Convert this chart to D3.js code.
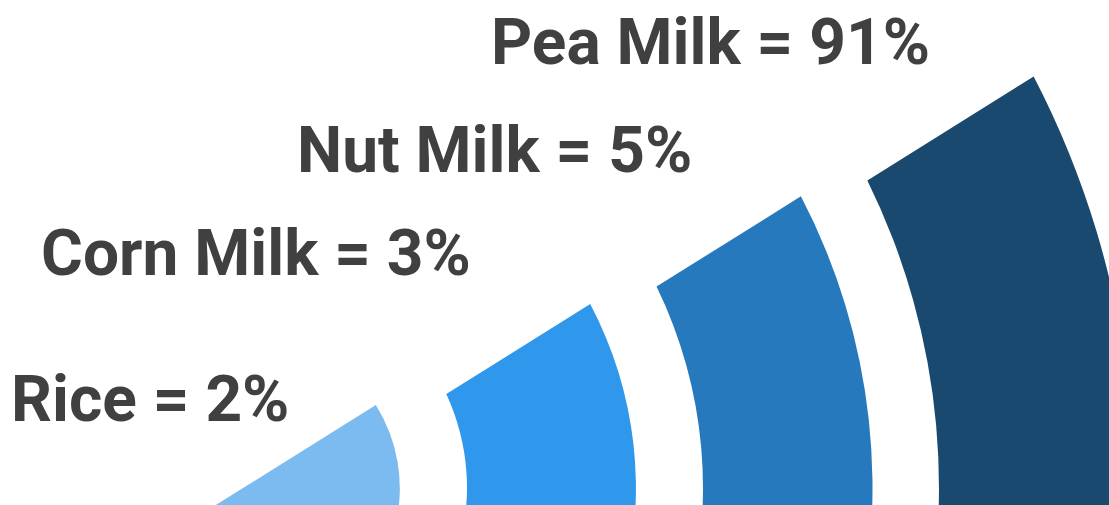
<!DOCTYPE html>
<html>
<head>
<meta charset="utf-8">
<script src="https://cdnjs.cloudflare.com/ajax/libs/d3/7.8.5/d3.min.js"></script>
<style>
  html, body { margin: 0; padding: 0; background: #fff; }
  svg { display: block; }
  .label { font-family: Roboto, 'Open Sans', sans-serif; font-weight: 700; fill: #404040; }
</style>
</head>
<body>
<div id="chart"></div>
<script>
'use strict';

// share of plant milk types
var categories = ['Rice', 'Corn Milk', 'Nut Milk', 'Pea Milk'];
var shares = [2, 3, 5, 91];

var palette = ['#7bbbf0', '#2f98ed', '#2779bd', '#1a4970'];

var width = 1109;
var height = 505;

// rings are half discs around a point near the bottom left
var center = [243, 488];
var start = 58 * Math.PI / 180;

// where the text sits (left end, baseline)
var labelPos = {
    'Rice': [11, 421],
    'Corn Milk': [41, 275],
    'Nut Milk': [297, 172],
    'Pea Milk': [491, 64]
};

var svg = d3.select('#chart')
    .append('svg')
    .attr('width', width)
    .attr('height', height)
    .attr('viewBox', [0, 0, width, height]);

svg.append('rect')
    .attr('width', width)
    .attr('height', height)
    .attr('fill', '#fff');

var color = d3.scaleOrdinal(categories, palette);

var ring = d3.scaleBand()
    .domain(categories)
    .range([-12, 864])
    .paddingInner(0.288);

// the big share gets a slightly fatter ring
var extra = d3.scaleLinear()
    .domain([0, 100])
    .range([0, 30]);

var rings = categories.map(function (c, i) {
    return {
        name: c,
        value: shares[i],
        r0: i === 0 ? 0 : ring(c),
        r1: ring(c) + ring.bandwidth() + extra(shares[i])
    };
});

var arc = d3.arc()
    .innerRadius(function (d) { return d.r0; })
    .outerRadius(function (d) { return d.r1; })
    .startAngle(start)
    .endAngle(start + Math.PI)
    .padAngle(function (d) { return d.r0 > 0 ? 0.124 : 0; });

svg.append('g')
    .attr('transform', 'translate(' + center[0] + ',' + center[1] + ')')
    .selectAll('path')
    .data(rings)
    .enter()
    .append('path')
    .attr('d', arc)
    .attr('fill', function (d) { return color(d.name); });

svg.append('g')
    .selectAll('text')
    .data(rings)
    .enter()
    .append('text')
    .attr('class', 'label')
    .attr('x', function (d) { return labelPos[d.name][0]; })
    .attr('y', function (d) { return labelPos[d.name][1]; })
    .style('font-size', '64px')
    .text(function (d) { return d.name + ' = ' + d.value + '%'; });
</script>
</body>
</html>
